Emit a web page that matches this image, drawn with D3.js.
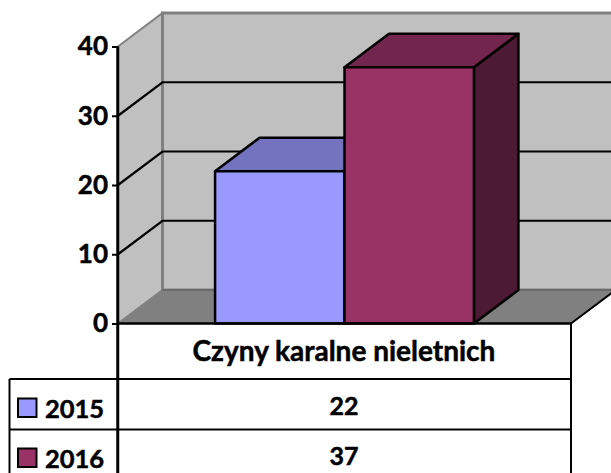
<!DOCTYPE html>
<html>
<head>
<meta charset="utf-8">
<script src="https://cdn.jsdelivr.net/npm/d3@7"></script>
<style>
body {margin:0; background:#fff;}
svg {display:block;}
text {font-family:Lato, sans-serif; font-weight:700; fill:#000; stroke:#000; stroke-width:0.5px;}
</style>
</head>
<body>
<div id="chart"></div>
<script>
// chart values
var category = "Czyny karalne nieletnich";
var years = ["2015", "2016"];
var values = [22, 37];
var yTicks = [0, 10, 20, 30, 40];

var frontColors = ["#9999ff", "#993366"];
var topColors = ["#7373bf", "#73264d"];
var sideColors = ["#5c5c99", "#4d1a33"];

var width = 611, height = 473,
    left = 118, right = 571,//front plane of the plot
    y0 = 323.5, y40 = 46.5,
    dx = 44.5, dy = -33.5,//depth of the 3d box
    tableLeft = 9.5,
    rowLines = [379, 429.5];

var yScale = d3.scaleLinear().domain([0, 40]).range([y0, y40]);
var xScale = d3.scaleBand().domain(years).range([left, right])
    .paddingInner(0).paddingOuter(0.75);

var svg = d3.select("#chart").append("svg")
    .attr("width", width)
    .attr("height", height);

function poly(pts) {
    return d3.line()(pts) + "Z";
}

// side wall, back wall and floor
svg.append("path")
    .attr("d", poly([[left, y40], [left + dx, y40 + dy], [left + dx, y0 + dy], [left, y0]]))
    .attr("fill", "#c0c0c0").attr("stroke", "#808080").attr("stroke-width", 2);
svg.append("path")
    .attr("d", poly([[left + dx, y40 + dy], [width + 5, y40 + dy], [width + 5, y0 + dy], [left + dx, y0 + dy]]))
    .attr("fill", "#c0c0c0").attr("stroke", "#808080").attr("stroke-width", 3);
svg.append("path")
    .attr("d", poly([[left, y0], [left + dx, y0 + dy], [right + dx, y0 + dy], [right, y0]]))
    .attr("fill", "#808080").attr("stroke", "none");
svg.append("line")
    .attr("x1", left + dx).attr("x2", width)
    .attr("y1", y0 + dy).attr("y2", y0 + dy)
    .attr("stroke", "#555").attr("stroke-width", 1);
svg.append("line")
    .attr("x1", right).attr("y1", y0)
    .attr("x2", right + dx).attr("y2", y0 + dy)
    .attr("stroke", "#000").attr("stroke-width", 2);

// gridlines, the 0 and 40 edges are not drawn in black
var grid = svg.append("g").selectAll("path")
    .data(yTicks.filter(function(d) {return d > 0 && d < 40;}))
    .enter().append("path")
    .attr("fill", "none")
    .attr("stroke", "#000")
    .attr("stroke-width", 2.2)
    .attr("d", function(d) {
        var y = yScale(d);
        return d3.line()([[left, y], [left + dx, y + dy], [width, y + dy]]);
    });

// the bars, drawn left to right so the second covers the first
var bars = svg.append("g").selectAll("g")
    .data(years)
    .enter().append("g")
    .attr("stroke", "#000")
    .attr("stroke-width", 2.5)
    .attr("stroke-linejoin", "round");

bars.append("path")
    .attr("fill", function(d, i) {return sideColors[i];})
    .attr("d", function(d, i) {
        var x = xScale(d) + xScale.bandwidth(), y = yScale(values[i]);
        return poly([[x, y], [x + dx, y + dy], [x + dx, y0 + dy], [x, y0]]);
    });
bars.append("path")
    .attr("fill", function(d, i) {return topColors[i];})
    .attr("d", function(d, i) {
        var x = xScale(d), w = xScale.bandwidth(), y = yScale(values[i]);
        return poly([[x, y], [x + dx, y + dy], [x + w + dx, y + dy], [x + w, y]]);
    });
bars.append("rect")
    .attr("fill", function(d, i) {return frontColors[i];})
    .attr("x", function(d) {return xScale(d);})
    .attr("y", function(d, i) {return yScale(values[i]);})
    .attr("width", xScale.bandwidth())
    .attr("height", function(d, i) {return y0 - yScale(values[i]);});

// data table lines
var table = svg.append("g").attr("stroke", "#000").attr("stroke-width", 2).attr("fill", "none");
table.append("line").attr("x1", left).attr("x2", right).attr("y1", y0).attr("y2", y0).attr("stroke-width", 2.5);
table.append("line").attr("x1", right).attr("x2", right).attr("y1", y0).attr("y2", height);
table.append("line").attr("x1", tableLeft).attr("x2", tableLeft).attr("y1", rowLines[0]).attr("y2", height);
table.selectAll(".row").data(rowLines).enter().append("line")
    .attr("class", "row")
    .attr("x1", tableLeft).attr("x2", right)
    .attr("y1", function(d) {return d;}).attr("y2", function(d) {return d;});
table.append("line").attr("x1", left - 0.25).attr("x2", left - 0.25).attr("y1", y40).attr("y2", height).attr("stroke-width", 3);

// y axis
var yAxis = d3.axisLeft(yScale).tickValues(yTicks).tickSize(6).tickPadding(4);
var axisG = svg.append("g")
    .attr("transform", "translate(" + left + ",0)")
    .call(yAxis);
axisG.select(".domain").remove();
axisG.selectAll("line").attr("stroke", "#000").attr("stroke-width", 2);
axisG.selectAll("text")
    .attr("font-size", 26)
    .style("font-family", "Lato, sans-serif")
    .style("font-weight", 700);

// table text
svg.append("text")
    .attr("x", (left + right) / 2 - 0.5)
    .attr("y", 360.5)
    .attr("text-anchor", "middle")
    .attr("font-size", 28)
    .text(category);

var rowText = [418, 468];
var rows = svg.append("g").selectAll("g")
    .data(years)
    .enter().append("g");
rows.append("rect")
    .attr("x", 18)
    .attr("y", function(d, i) {return rowText[i] - 19.5;})
    .attr("width", 18.5)
    .attr("height", 18.5)
    .attr("fill", function(d, i) {return frontColors[i];})
    .attr("stroke", "#000")
    .attr("stroke-width", 2);
rows.append("text")
    .attr("x", 45)
    .attr("y", function(d, i) {return rowText[i];})
    .attr("font-size", 25.5)
    .text(function(d) {return d;});
rows.append("text")
    .attr("x", (left + right) / 2 - 0.5)
    .attr("y", function(d, i) {return rowText[i] - 3;})
    .attr("text-anchor", "middle")
    .attr("font-size", 25)
    .text(function(d, i) {return values[i];});
</script>
</body>
</html>
